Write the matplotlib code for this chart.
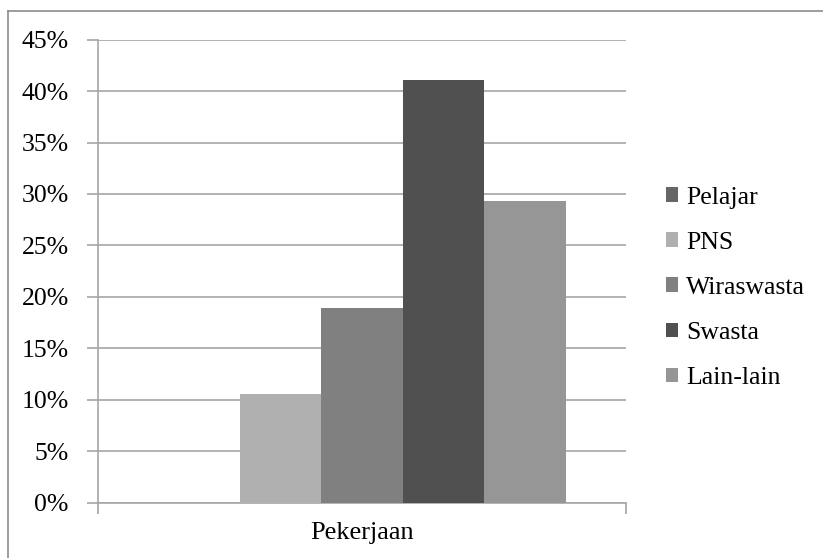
import matplotlib.pyplot as plt
from matplotlib.lines import Line2D

plt.rcParams['font.family'] = ['Liberation Serif', 'DejaVu Serif']

categories = ['Pelajar', 'PNS', 'Wiraswasta', 'Swasta', 'Lain-lain']
values = [0.0, 10.6, 18.9, 41.1, 29.3]
colors = ['#666666', '#b0b0b0', '#808080', '#505050', '#969696']
group_label = 'Pekerjaan'
yticks = [0, 5, 10, 15, 20, 25, 30, 35, 40, 45]

fig = plt.figure(figsize=(8.23, 5.58), dpi=100)
ax = fig.add_axes([0.1191, 0.0986, 0.6415, 0.8306])

w = 0.1544
for i, (c, v, col) in enumerate(zip(categories, values, colors)):
    ax.bar((i - 2) * w, v, width=w, color=col, label=c, zorder=3)

ax.set_xlim(-0.5, 0.5)
ax.set_ylim(0, 45)
ax.set_yticks(yticks)
ax.set_yticklabels([f'{t}%' for t in yticks])
ax.yaxis.grid(True, color='#a6a6a6', linewidth=1.2, zorder=0)

ax.set_xticks([0])
ax.set_xticklabels([group_label])
ax.set_xticks([-0.5, 0.5], minor=True)
ax.tick_params(axis='x', which='major', length=0, pad=14, labelsize=19)
ax.tick_params(axis='x', which='minor', length=8, color='#a6a6a6', width=1.2)
ax.tick_params(axis='y', length=8, color='#a6a6a6', width=1.2, pad=13, labelsize=18.5)

for s in ['top', 'right']:
    ax.spines[s].set_visible(False)
for s in ['left', 'bottom']:
    ax.spines[s].set_color('#a6a6a6')
    ax.spines[s].set_linewidth(1.2)

ax.legend(loc='center left', bbox_to_anchor=(1.075, 0.464), frameon=False,
          fontsize=18.5, handlelength=0.5, handleheight=0.5, handletextpad=0.3,
          labelspacing=0.9, borderpad=0, borderaxespad=0)

# outer chart border (left and top edges visible)
fig.add_artist(Line2D([8 / 823, 8 / 823], [0, 1 - 11 / 558], color='#8c8c8c', lw=1.2))
fig.add_artist(Line2D([8 / 823, 1], [1 - 11 / 558, 1 - 11 / 558], color='#8c8c8c', lw=1.2))

fig.savefig('out.png', dpi=100)
